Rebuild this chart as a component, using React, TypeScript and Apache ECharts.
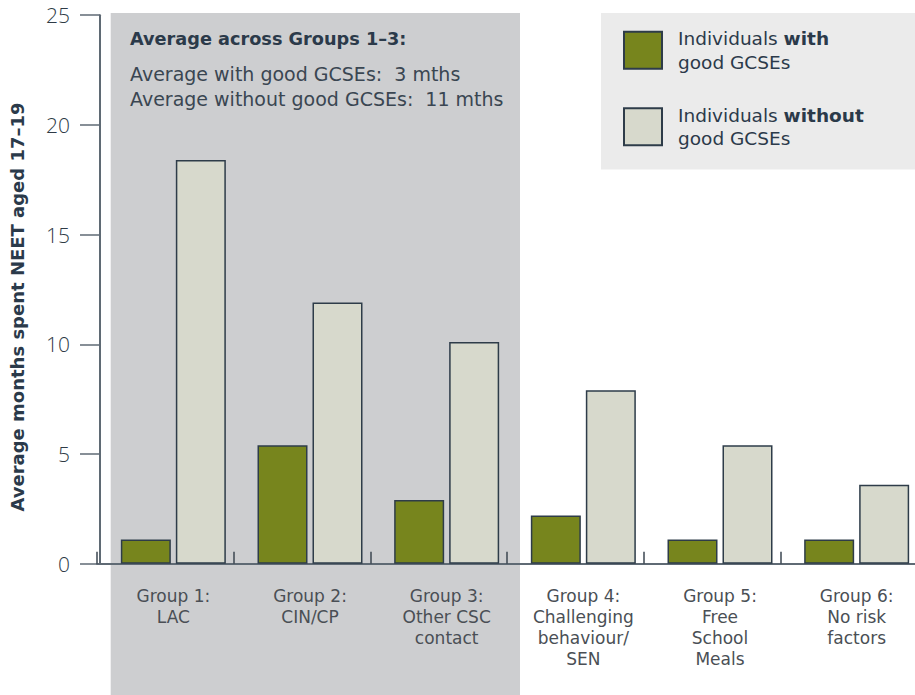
import React, { useEffect, useRef } from "react";
import * as echarts from "echarts";

const categories = [
  "Group 1:\nLAC",
  "Group 2:\nCIN/CP",
  "Group 3:\nOther CSC\ncontact",
  "Group 4:\nChallenging\nbehaviour/\nSEN",
  "Group 5:\nFree\nSchool\nMeals",
  "Group 6:\nNo risk\nfactors",
];
const seriesNames = ["Individuals with good GCSEs", "Individuals without good GCSEs"];
const withGood = [1.1, 5.4, 2.9, 2.2, 1.1, 1.1];
const withoutGood = [18.4, 11.9, 10.1, 7.9, 5.4, 3.6];
const yMin = 0;
const yMax = 25;
const yInterval = 5;
const annotationTitle = "Average across Groups 1\u20133:";
const annotationLines = ["Average with good GCSEs:  3 mths", "Average without good GCSEs:  11 mths"];
const yAxisTitle = "Average months spent NEET aged 17\u201319";

const FONT = "'DejaVu Sans', 'Open Sans', sans-serif";
const TICKFONT = "'Open Sans', 'DejaVu Sans', sans-serif";
const DARK = "#2b3a4a";
const GREEN = "#77851d";
const LIGHT = "#d7d9cc";
const BORDER = "#2e3c49";
const AXIS = "#5f6a74";

export default function App() {
  const ref = useRef<HTMLDivElement>(null);
  useEffect(() => {
    if (!ref.current) return;
    const chart = echarts.init(ref.current, null, { renderer: "svg" });
    const top = 15.2;
    const height = 563.7 - 15.2;
    chart.setOption({
      animation: false,
      textStyle: { fontFamily: FONT },
      grid: [
        { left: 105, width: 820, top, height, containLabel: false },
        { left: 97, width: 820, top, height, containLabel: false },
      ],
      xAxis: [
        {
          type: "category",
          gridIndex: 0,
          data: categories,
          axisLine: { show: false },
          axisTick: { show: false },
          axisLabel: {
            interval: 0,
            margin: 22,
            fontSize: 17,
            lineHeight: 21,
            color: "#4a4f55",
            fontFamily: FONT,
          },
        },
        {
          type: "category",
          gridIndex: 1,
          data: categories,
          axisLine: { show: true, lineStyle: { color: AXIS, width: 2 } },
          axisTick: { show: true, inside: true, length: 12, lineStyle: { color: "#3b4650", width: 1.5 } },
          axisLabel: { show: false },
        },
      ],
      yAxis: [
        {
          type: "value",
          gridIndex: 0,
          min: yMin,
          max: yMax,
          interval: yInterval,
          offset: 5,
          axisLine: { show: true, lineStyle: { color: AXIS, width: 2 } },
          axisTick: { show: true, length: 20, lineStyle: { color: AXIS, width: 1.5 } },
          splitLine: { show: false },
          axisLabel: { margin: 30, fontSize: 21, color: "#2e3a46", fontWeight: 300, fontFamily: TICKFONT },
        },
        {
          type: "value",
          gridIndex: 1,
          min: yMin,
          max: yMax,
          interval: yInterval,
          show: false,
        },
      ],
      legend: {
        orient: "vertical",
        left: 623,
        top: 29,
        padding: 0,
        itemWidth: 38,
        itemHeight: 37,
        itemGap: 34,
        icon: "rect",
        data: seriesNames,
        formatter: (name: string) =>
          name === seriesNames[0]
            ? "{r|Individuals }{b|with}\n{r|good GCSEs}"
            : "{r|Individuals }{b|without}\n{r|good GCSEs}",
        textStyle: {
          rich: {
            r: { fontSize: 18.5, lineHeight: 23.5, color: DARK, fontFamily: FONT, padding: [0, 0, 0, 11] },
            b: { fontSize: 18.5, lineHeight: 23.5, color: DARK, fontWeight: "bold", fontFamily: FONT },
          },
        },
      },
      graphic: [
        {
          type: "rect",
          z: -100,
          silent: true,
          shape: { x: 110.7, y: 13, width: 409.3, height: 682 },
          style: { fill: "#cdced0" },
        },
        {
          type: "rect",
          z: -100,
          silent: true,
          shape: { x: 601, y: 13, width: 330, height: 156.5 },
          style: { fill: "#ebebeb" },
        },
        {
          type: "text",
          x: 130,
          y: 39,
          style: {
            text: annotationTitle,
            fill: DARK,
            font: `bold 17.7px ${FONT}`,
            verticalAlign: "middle",
          },
        },
        ...annotationLines.map((t, i) => ({
          type: "text",
          x: 130,
          y: 74 + i * 25,
          style: { text: t, fill: "#3a4652", font: `19px ${FONT}`, verticalAlign: "middle" },
        })),
        {
          type: "text",
          x: 17,
          y: 307,
          rotation: Math.PI / 2,
          style: {
            text: yAxisTitle,
            fill: DARK,
            font: `bold 18px ${FONT}`,
            align: "center",
            verticalAlign: "middle",
          },
        },
      ],
      series: [
        {
          name: seriesNames[0],
          type: "bar",
          xAxisIndex: 0,
          yAxisIndex: 0,
          data: withGood,
          barWidth: 50,
          barGap: "10%",
          itemStyle: { color: GREEN, borderColor: BORDER, borderWidth: 1.5 },
        },
        {
          name: seriesNames[1],
          type: "bar",
          xAxisIndex: 0,
          yAxisIndex: 0,
          data: withoutGood,
          barWidth: 50,
          barGap: "10%",
          itemStyle: { color: LIGHT, borderColor: BORDER, borderWidth: 1.5 },
        },
      ],
    });
    return () => chart.dispose();
  }, []);
  return (
    <div
      ref={ref}
      style={{ position: "fixed", left: 0, top: 0, width: 935, height: 695, background: "#fff" }}
    />
  );
}
